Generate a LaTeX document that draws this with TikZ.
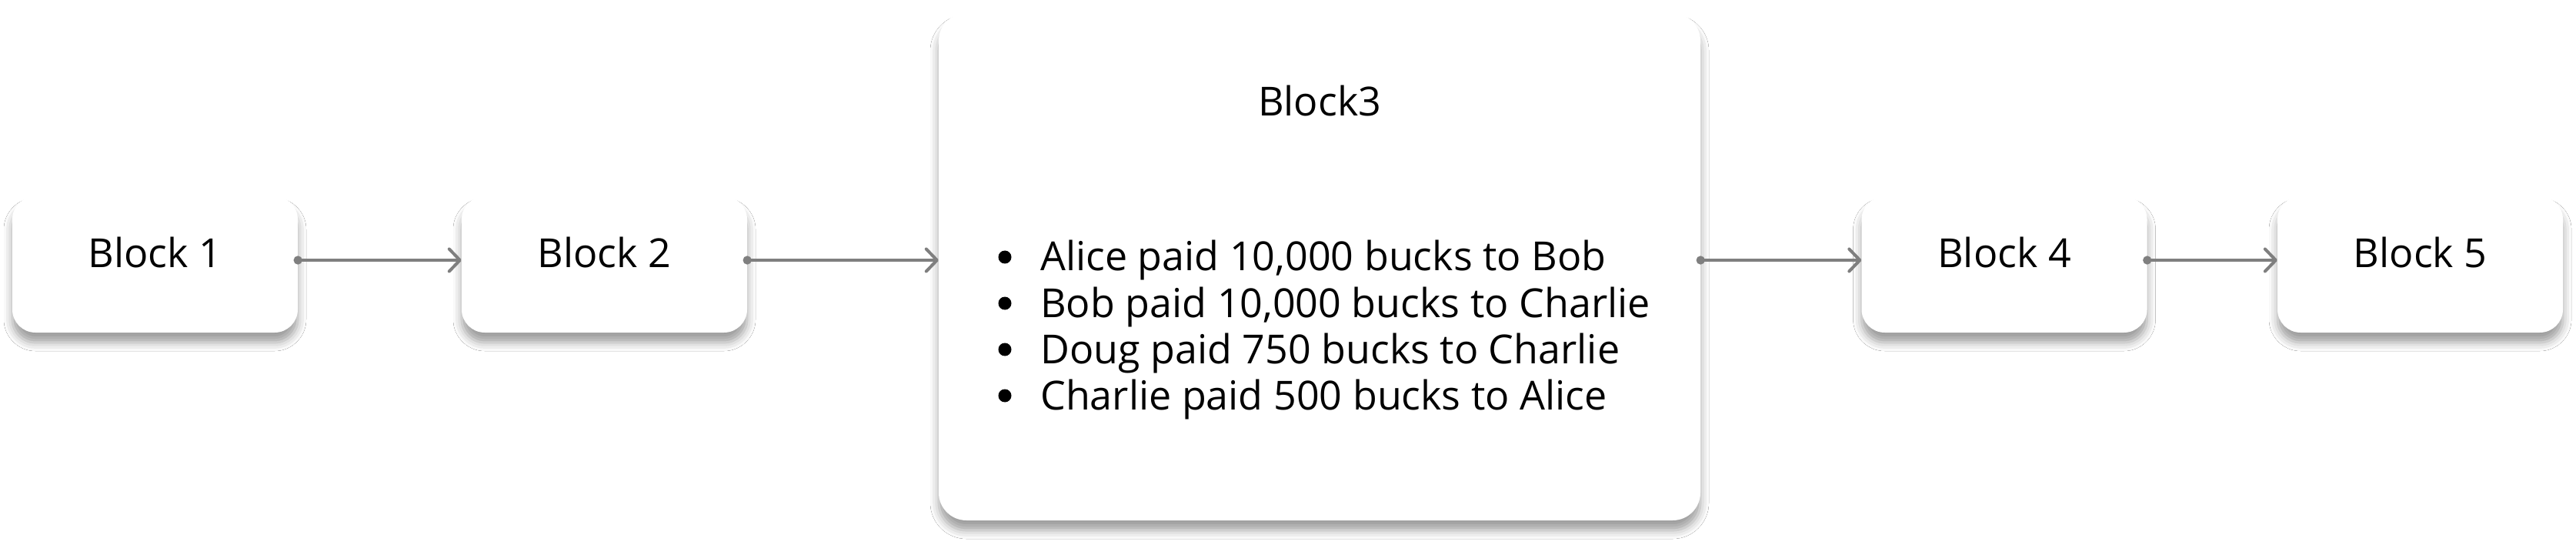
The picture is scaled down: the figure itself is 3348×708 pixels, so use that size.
\documentclass[tikz,border=0pt]{standalone}
\usepackage{fontspec}
\setmainfont{Open Sans}
\usetikzlibrary{arrows.meta,shadows.blur}
\definecolor{conngray}{HTML}{7F7F7F}
\tikzset{
  blockbox/.style={draw=none, fill=white, rounded corners=30pt, inner sep=0pt,
    blur shadow={shadow xshift=0pt, shadow yshift=-13pt, shadow blur radius=11pt, shadow opacity=38}},
  smallbox/.style={blockbox, minimum width=371pt, minimum height=177pt},
  lbl/.style={anchor=base, inner sep=0pt, font=\fontsize{52}{60}\selectfont},
  itemtxt/.style={anchor=base west, inner sep=0pt, font=\fontsize{52}{60}\selectfont},
  conn/.style={draw=conngray, line width=4pt,
    {Circle[length=11pt]}-{Straight Barb[length=14pt,width=29pt,round]},
    shorten <=-5.5pt},
}
\begin{document}
\begin{tikzpicture}[x=1pt,y=-1pt]
\useasboundingbox[fill=white] (0,0) rectangle (3348,708);
\coordinate (row) at (0,338);
% boxes
\node[smallbox] (b1) at (201.5,343.5) {};
\node[smallbox] (b2) at (785.5,343.5) {};
\node[blockbox, minimum width=990pt, minimum height=659pt, rounded corners=36pt] (b3) at (1715,346.5) {};
\node[smallbox] (b4) at (2605,343.5) {};
\node[smallbox] (b5) at (3145.5,343.5) {};
% labels
\node[lbl] (t1) at (201.5,348) {Block 1};
\node[lbl] (t2) at (785.5,348) {Block 2};
\node[lbl] (t3) at (1715,151) {Block3};
\node[lbl] (t4) at (2605,348) {Block 4};
\node[lbl] (t5) at (3145.5,348) {Block 5};
% list
\node[itemtxt] (l1) at (1352,352) {Alice paid 10,000 bucks to Bob};
\node[itemtxt] (l2) at (1352,412) {Bob paid 10,000 bucks to Charlie};
\node[itemtxt] (l3) at (1352,472) {Doug paid 750 bucks to Charlie};
\node[itemtxt] (l4) at (1352,532) {Charlie paid 500 bucks to Alice};
\foreach \n in {l1,l2,l3,l4}{
  \fill ([xshift=-46pt,yshift=18pt]\n.base west) circle[radius=8.5pt];
}
% connectors
\draw[conn] (b1.east |- row) -- (b2.west |- row);
\draw[conn] (b2.east |- row) -- (b3.west |- row);
\draw[conn] (b3.east |- row) -- (b4.west |- row);
\draw[conn] (b4.east |- row) -- (b5.west |- row);
\end{tikzpicture}
\end{document}
